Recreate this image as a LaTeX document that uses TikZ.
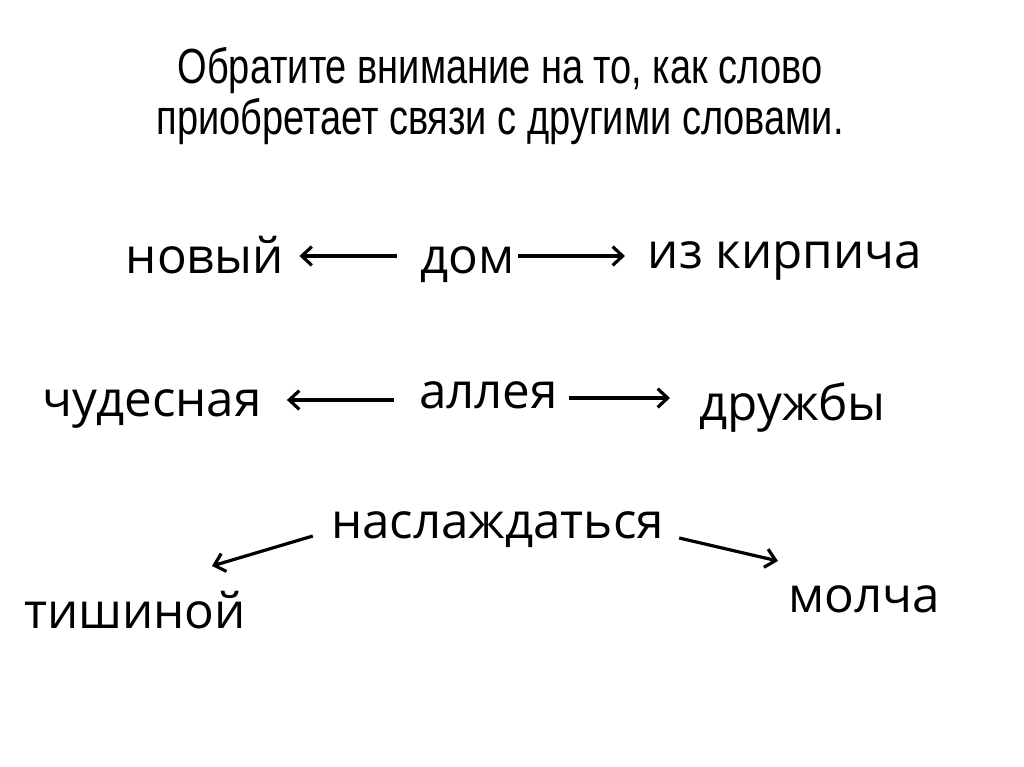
\documentclass[tikz,border=0pt]{standalone}
\usepackage{fontspec}
\setmainfont{Open Sans}
\newfontfamily\narrowfont[FakeStretch=0.77]{Liberation Sans}
\usetikzlibrary{arrows.meta}
\begin{document}
\begin{tikzpicture}[x=0.75pt, y=-0.75pt, >={Straight Barb[length=7.5pt,width=14pt]},
  word/.style={font=\fontsize{37}{44}\selectfont, inner sep=0pt, anchor=base},
  head/.style={font=\narrowfont\fontsize{37}{44}\selectfont, inner sep=0pt, anchor=base},
  link/.style={->, line width=2.4pt}]
\useasboundingbox[fill=white] (0,0) rectangle (1024,767);
% title
\node[head] (title1) at (500,84) {Обратите внимание на то, как слово};
\node[head] (title2) at (500,134) {приобретает связи с другими словами.};
% row 1
\node[word] (novyj) at (205,273) {новый};
\node[word] (dom) at (467.5,273) {дом};
\node[word] (kirpich) at (785,268) {из кирпича};
\draw[link] ([shift={(-23,-17)}]dom.base west) -- ([shift={(15,-17)}]novyj.base east);
\coordinate (r1) at (625,256);
\draw[link] ([shift={(3,-17)}]dom.base east) -- (r1);
% row 2
\node[word] (chudesnaja) at (152,416) {чудесная};
\node[word] (alleja) at (488.5,408) {аллея};
\node[word] (druzhby) at (792.5,420) {дружбы};
\draw[link] ([shift={(-25,-8)}]alleja.base west) -- ([shift={(25,-16)}]chudesnaja.base east);
\draw[link] ([shift={(11,-10)}]alleja.base east) -- ([shift={(-29,-22)}]druzhby.base west);
% row 3
\node[word] (nasl) at (497.5,538) {наслаждаться};
\node[word] (tishinoj) at (135,628) {тишиной};
\node[word] (molcha) at (864,612) {молча};
\coordinate (l3) at (212,566);
\coordinate (r3) at (778,561);
\draw[link] ([shift={(-18,-2)}]nasl.base west) -- (l3);
\draw[link] ([shift={(15,0)}]nasl.base east) -- (r3);
\end{tikzpicture}
\end{document}
